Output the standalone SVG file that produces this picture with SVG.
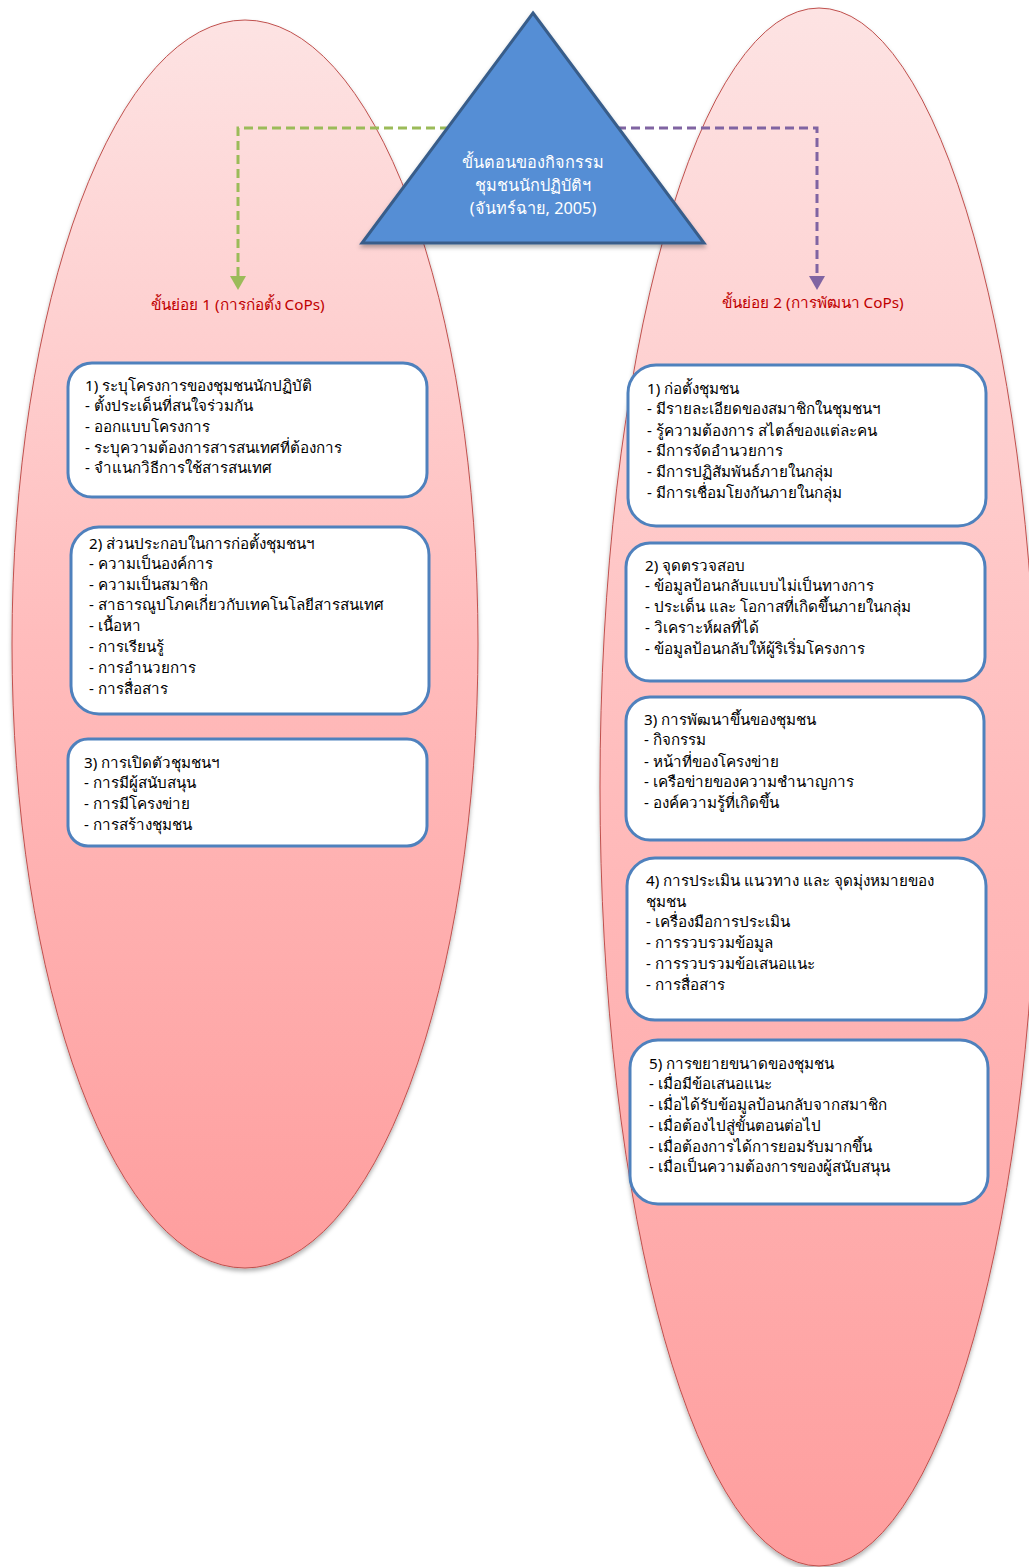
<svg xmlns="http://www.w3.org/2000/svg" width="1029" height="1567" viewBox="0 0 1029 1567">
<style>
.t{font-family:"Noto Sans","DejaVu Sans",sans-serif;font-size:15.2px;fill:#000}
.h{font-family:"Noto Sans","DejaVu Sans",sans-serif;font-size:15.3px;fill:#c00000;text-anchor:middle}
.tri{font-family:"Noto Sans","DejaVu Sans",sans-serif;font-size:16.3px;fill:#fff;text-anchor:middle}
.box{fill:#fff;stroke:#4f81bd;stroke-width:3}
.ell{fill:url(#pg);stroke:#c0504d;stroke-width:1;filter:url(#sh)}
</style>
<defs>
<linearGradient id="pg" x1="0" y1="0" x2="0" y2="1">
<stop offset="0" stop-color="#fde3e3"/>
<stop offset="0.5" stop-color="#ffbcbc"/>
<stop offset="1" stop-color="#fe9e9e"/>
</linearGradient>
<filter id="sh" x="-10%" y="-10%" width="120%" height="120%">
<feDropShadow dx="0" dy="3" stdDeviation="2" flood-color="#000" flood-opacity="0.3"/>
</filter>
</defs>
<g id="ellipse-left"><ellipse class="ell" cx="245" cy="644" rx="233" ry="624"/></g>
<g id="ellipse-right"><ellipse class="ell" cx="819" cy="787" rx="219" ry="779"/></g>
<g id="connectors">
<path d="M533,128 H238 V280" fill="none" stroke="#9bbb59" stroke-width="3" stroke-dasharray="9,5"/>
<path d="M230,276 L246,276 L238,290 Z" fill="#9bbb59"/>
<path d="M533,128 H817 V280" fill="none" stroke="#8064a2" stroke-width="3" stroke-dasharray="9,5"/>
<path d="M809,276 L825,276 L817,290 Z" fill="#8064a2"/>
</g>
<g id="triangle">
<path d="M533,13 L704,243 L362,243 Z" fill="#558ed5" stroke="#385d8a" stroke-width="3" filter="url(#sh)"/>
<text class="tri" x="533" y="168">ขั้นตอนของกิจกรรม</text>
<text class="tri" x="533" y="191">ชุมชนนักปฏิบัติฯ</text>
<text class="tri" x="533" y="214">(จันทร์ฉาย, 2005)</text>
</g>
<g id="label-1"><text class="h" x="238" y="310">ขั้นย่อย 1 (การก่อตั้ง CoPs)</text></g>
<g id="label-2"><text class="h" x="813" y="308">ขั้นย่อย 2 (การพัฒนา CoPs)</text></g>
<g id="box-l1">
<rect class="box" x="68" y="363" width="359" height="134" rx="24"/>
<text class="t" x="85" y="391">1) ระบุโครงการของชุมชนนักปฏิบัติ</text>
<text class="t" x="85" y="411">- ตั้งประเด็นที่สนใจร่วมกัน</text>
<text class="t" x="85" y="432">- ออกแบบโครงการ</text>
<text class="t" x="85" y="453">- ระบุความต้องการสารสนเทศที่ต้องการ</text>
<text class="t" x="85" y="473">- จำแนกวิธีการใช้สารสนเทศ</text>
</g>
<g id="box-l2">
<rect class="box" x="71" y="527" width="358" height="187" rx="28"/>
<text class="t" x="89" y="549">2) ส่วนประกอบในการก่อตั้งชุมชนฯ</text>
<text class="t" x="89" y="569">- ความเป็นองค์การ</text>
<text class="t" x="89" y="590">- ความเป็นสมาชิก</text>
<text class="t" x="89" y="610">- สาธารณูปโภคเกี่ยวกับเทคโนโลยีสารสนเทศ</text>
<text class="t" x="89" y="631">- เนื้อหา</text>
<text class="t" x="89" y="652">- การเรียนรู้</text>
<text class="t" x="89" y="673">- การอำนวยการ</text>
<text class="t" x="89" y="694">- การสื่อสาร</text>
</g>
<g id="box-l3">
<rect class="box" x="68" y="739" width="359" height="107" rx="20"/>
<text class="t" x="84" y="768">3) การเปิดตัวชุมชนฯ</text>
<text class="t" x="84" y="788">- การมีผู้สนับสนุน</text>
<text class="t" x="84" y="809">- การมีโครงข่าย</text>
<text class="t" x="84" y="830">- การสร้างชุมชน</text>
</g>
<g id="box-r1">
<rect class="box" x="628" y="365" width="358" height="161" rx="28"/>
<text class="t" x="647" y="394">1) ก่อตั้งชุมชน</text>
<text class="t" x="647" y="414">- มีรายละเอียดของสมาชิกในชุมชนฯ</text>
<text class="t" x="647" y="436">- รู้ความต้องการ สไตล์ของแต่ละคน</text>
<text class="t" x="647" y="456">- มีการจัดอำนวยการ</text>
<text class="t" x="647" y="477">- มีการปฏิสัมพันธ์ภายในกลุ่ม</text>
<text class="t" x="647" y="498">- มีการเชื่อมโยงกันภายในกลุ่ม</text>
</g>
<g id="box-r2">
<rect class="box" x="626" y="543" width="359" height="138" rx="24"/>
<text class="t" x="645" y="571">2) จุดตรวจสอบ</text>
<text class="t" x="645" y="591">- ข้อมูลป้อนกลับแบบไม่เป็นทางการ</text>
<text class="t" x="645" y="612">- ประเด็น และ โอกาสที่เกิดขึ้นภายในกลุ่ม</text>
<text class="t" x="645" y="633">- วิเคราะห์ผลที่ได้</text>
<text class="t" x="645" y="654">- ข้อมูลป้อนกลับให้ผู้ริเริ่มโครงการ</text>
</g>
<g id="box-r3">
<rect class="box" x="626" y="697" width="358" height="143" rx="24"/>
<text class="t" x="644" y="725">3) การพัฒนาขึ้นของชุมชน</text>
<text class="t" x="644" y="745">- กิจกรรม</text>
<text class="t" x="644" y="767">- หน้าที่ของโครงข่าย</text>
<text class="t" x="644" y="787">- เครือข่ายของความชำนาญการ</text>
<text class="t" x="644" y="808">- องค์ความรู้ที่เกิดขึ้น</text>
</g>
<g id="box-r4">
<rect class="box" x="627" y="858" width="359" height="162" rx="28"/>
<text class="t" x="646" y="886">4) การประเมิน แนวทาง และ จุดมุ่งหมายของ</text>
<text class="t" x="646" y="907">ชุมชน</text>
<text class="t" x="646" y="927">- เครื่องมือการประเมิน</text>
<text class="t" x="646" y="948">- การรวบรวมข้อมูล</text>
<text class="t" x="646" y="969">- การรวบรวมข้อเสนอแนะ</text>
<text class="t" x="646" y="990">- การสื่อสาร</text>
</g>
<g id="box-r5">
<rect class="box" x="630" y="1040" width="358" height="164" rx="28"/>
<text class="t" x="649" y="1069">5) การขยายขนาดของชุมชน</text>
<text class="t" x="649" y="1089">- เมื่อมีข้อเสนอแนะ</text>
<text class="t" x="649" y="1110">- เมื่อได้รับข้อมูลป้อนกลับจากสมาชิก</text>
<text class="t" x="649" y="1131">- เมื่อต้องไปสู่ขั้นตอนต่อไป</text>
<text class="t" x="649" y="1152">- เมื่อต้องการได้การยอมรับมากขึ้น</text>
<text class="t" x="649" y="1172">- เมื่อเป็นความต้องการของผู้สนับสนุน</text>
</g>
</svg>
